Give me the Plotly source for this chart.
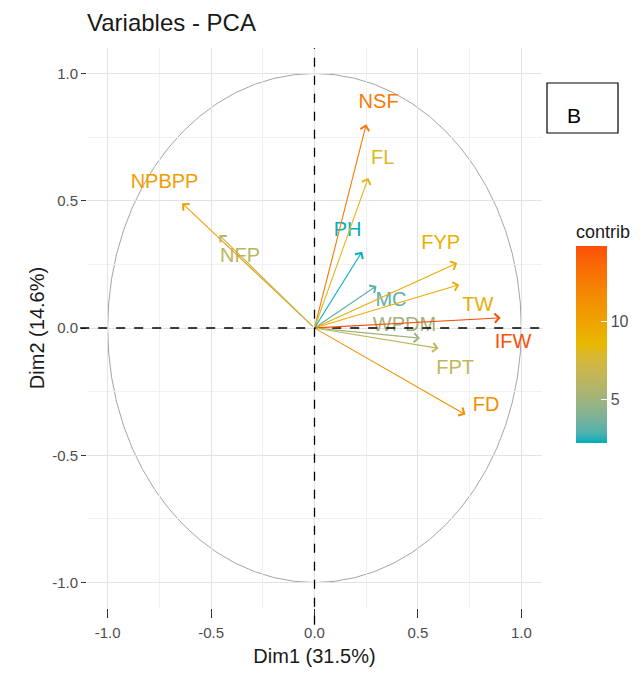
import plotly.graph_objects as go
from plotly.colors import sample_colorscale

# ---- data ----
variables = ["NSF", "FL", "PH", "MC", "FYP", "TW", "IFW", "WPDM", "FPT", "FD", "NPBPP", "NFP"]
dim1 = [0.25, 0.26, 0.23, 0.30, 0.69, 0.70, 0.90, 0.51, 0.60, 0.73, -0.64, -0.46]
dim2 = [0.80, 0.59, 0.30, 0.165, 0.255, 0.17, 0.04, -0.04, -0.08, -0.34, 0.49, 0.365]
contrib = [12.6, 8.0, 2.2, 3.0, 9.3, 9.3, 14.8, 5.0, 6.5, 11.3, 10.3, 6.2]
label_x = [0.31, 0.33, 0.16, 0.37, 0.61, 0.79, 0.96, 0.435, 0.68, 0.83, -0.725, -0.36]
label_y = [0.885, 0.665, 0.38, 0.106, 0.33, 0.086, -0.06, 0.008, -0.16, -0.305, 0.57, 0.28]

x_ticks = [-1.0, -0.5, 0.0, 0.5, 1.0]
x_tick_labels = ["-1.0", "-0.5", "0.0", "0.5", "1.0"]
y_ticks = [-1.0, -0.5, 0.0, 0.5, 1.0]
y_tick_labels = ["-1.0", "-0.5", "0.0", "0.5", "1.0"]
legend_ticks = [5, 10]

gradient_cols = ["#00AFBB", "#E7B800", "#FC4E07"]


# ---- Lab interpolation of the gradient (as ggplot does) ----
def _hex_rgb(h):
    h = h.lstrip("#")
    return [int(h[i:i + 2], 16) / 255 for i in (0, 2, 4)]


def _to_lab(h):
    rgb = [((c + 0.055) / 1.055) ** 2.4 if c > 0.04045 else c / 12.92 for c in _hex_rgb(h)]
    r, g, b = rgb
    X = (0.4124 * r + 0.3576 * g + 0.1805 * b) / 0.95047
    Y = (0.2126 * r + 0.7152 * g + 0.0722 * b)
    Z = (0.0193 * r + 0.1192 * g + 0.9505 * b) / 1.08883
    f = lambda t: t ** (1 / 3) if t > 0.008856 else 7.787 * t + 16 / 116
    fx, fy, fz = f(X), f(Y), f(Z)
    return [116 * fy - 16, 500 * (fx - fy), 200 * (fy - fz)]


def _from_lab(L, a, b):
    fy = (L + 16) / 116
    fx = fy + a / 500
    fz = fy - b / 200
    inv = lambda t: t ** 3 if t ** 3 > 0.008856 else (t - 16 / 116) / 7.787
    X, Y, Z = inv(fx) * 0.95047, inv(fy), inv(fz) * 1.08883
    r = 3.2406 * X - 1.5372 * Y - 0.4986 * Z
    g = -0.9689 * X + 1.8758 * Y + 0.0415 * Z
    bb = 0.0557 * X - 0.2040 * Y + 1.0570 * Z
    out = []
    for c in (r, g, bb):
        c = 1.055 * c ** (1 / 2.4) - 0.055 if c > 0.0031308 else 12.92 * c
        out.append(int(round(min(max(c, 0), 1) * 255)))
    return "rgb({},{},{})".format(*out)


labs = [_to_lab(c) for c in gradient_cols]
colorscale = []
n = 20
for i in range(n + 1):
    t = i / n
    seg = min(int(t * 2), 1)
    u = t * 2 - seg
    L = [labs[seg][k] + (labs[seg + 1][k] - labs[seg][k]) * u for k in range(3)]
    colorscale.append([t, _from_lab(*L)])

cmin, cmax = min(contrib), max(contrib)
cols = sample_colorscale(colorscale, [(c - cmin) / (cmax - cmin) for c in contrib])

# page body has an 8px margin: figure coordinates are offset accordingly
W, H = 634, 659
L_M, T_M = 79, 40
PW, PH = 455, 560

fig = go.Figure()

# invisible markers that carry the colour scale
fig.add_trace(go.Scatter(
    x=dim1, y=dim2, mode="markers", hoverinfo="skip", showlegend=False,
    marker=dict(size=1, opacity=0, color=contrib, colorscale=colorscale,
                cmin=cmin, cmax=cmax, showscale=True,
                colorbar=dict(
                    title=dict(text="contrib", side="top",
                               font=dict(size=18, color="#1A1A1A")),
                    x=(566 - 87) / PW, xanchor="left",
                    y=(608 - 453) / PH, yanchor="bottom",
                    len=242, lenmode="pixels", thickness=31,
                    tickvals=legend_ticks, ticks="inside", ticklen=6,
                    tickcolor="white", outlinewidth=0,
                    tickfont=dict(size=16, color="#4D4D4D"),
                )),
))

# variable labels
fig.add_trace(go.Scatter(
    x=label_x, y=label_y, mode="text", text=variables, hoverinfo="skip",
    showlegend=False, textposition="middle center",
    textfont=dict(size=20, color=cols, family="Liberation Sans, Arial"),
))

# arrows
for xi, yi, c in zip(dim1, dim2, cols):
    fig.add_annotation(
        x=xi, y=yi, ax=0, ay=0, xref="x", yref="y", axref="x", ayref="y",
        text="", showarrow=True, arrowhead=4, arrowsize=1.6, arrowwidth=1.1,
        arrowcolor=c,
    )

# correlation circle
fig.add_shape(type="circle", xref="x", yref="y", x0=-1, y0=-1, x1=1, y1=1,
              line=dict(color="#9A9A9A", width=0.9), layer="below")
# dashed zero lines
fig.add_shape(type="line", xref="paper", yref="y", x0=-0.015, x1=1, y0=0, y1=0,
              line=dict(color="black", width=1.3, dash="dash"))
fig.add_shape(type="line", xref="x", yref="paper", x0=0, x1=0, y0=-0.03, y1=1,
              line=dict(color="black", width=1.3, dash="dash"))

# "B" panel tag
fig.add_shape(type="rect", xref="paper", yref="paper",
              x0=(547 - 87) / PW, x1=(618 - 87) / PW,
              y0=(608 - 133) / PH, y1=(608 - 83) / PH,
              line=dict(color="black", width=1.2), fillcolor="white")
fig.add_annotation(xref="paper", yref="paper", x=(574 - 87) / PW, y=(608 - 115) / PH,
                   xanchor="center", yanchor="middle",
                   text="B", showarrow=False,
                   font=dict(size=21, color="black", family="Liberation Sans, Arial"))

axis_common = dict(
    showgrid=True, gridcolor="#E3E3E3", gridwidth=1,
    minor=dict(showgrid=True, gridcolor="#F0F0F0", gridwidth=0.6, dtick=0.25),
    zeroline=False, showline=False,
    tickcolor="#333333", tickwidth=1,
    tickfont=dict(size=15, color="#4D4D4D", family="Liberation Sans, Arial"),
)

fig.update_layout(
    width=W, height=H,
    margin=dict(l=L_M, r=W - L_M - PW, t=T_M, b=H - T_M - PH, autoexpand=False),
    paper_bgcolor="white", plot_bgcolor="white",
    font=dict(family="Liberation Sans, Arial", color="#1A1A1A"),
    title=dict(text="Variables - PCA", x=0, xref="paper", xanchor="left",
               y=1 - 15 / H, yref="container", yanchor="middle",
               font=dict(size=24, color="#1A1A1A")),
    xaxis=dict(range=[-1.1, 1.1], tickvals=x_ticks, ticktext=x_tick_labels,
               ticks="outside", ticklen=9, ticklabelstandoff=2,
               title=dict(text="Dim1 (31.5%)", standoff=8,
                          font=dict(size=20, color="#1A1A1A")),
               **axis_common),
    yaxis=dict(range=[-1.1, 1.1], tickvals=y_ticks, ticktext=y_tick_labels,
               ticks="outside", ticklen=5,
               title=dict(text="Dim2 (14.6%)", standoff=2,
                          font=dict(size=20, color="#1A1A1A")),
               **axis_common),
    showlegend=False,
)

fig.write_html("out.html")
